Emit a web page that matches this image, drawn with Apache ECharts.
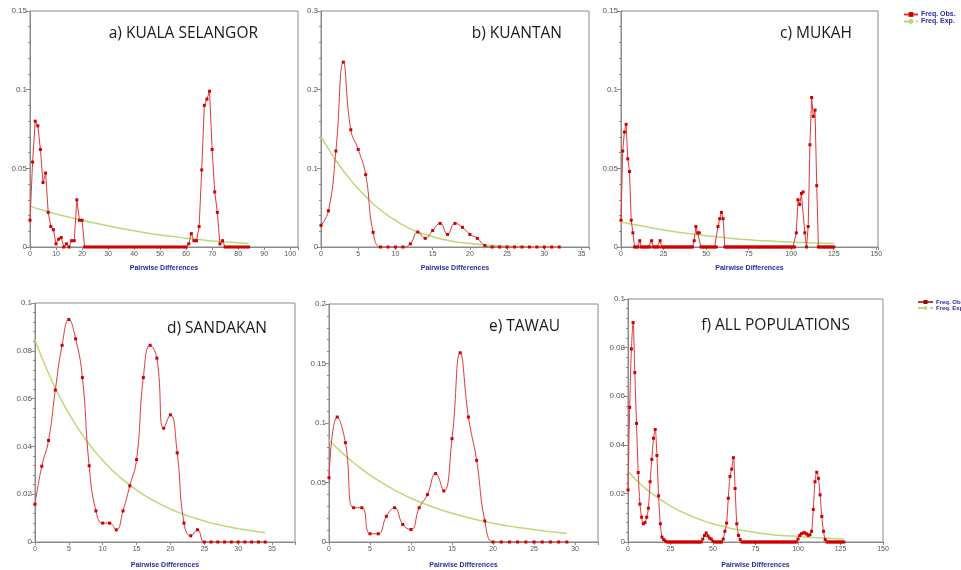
<!DOCTYPE html>
<html>
<head>
<meta charset="utf-8">
<script src="https://cdn.jsdelivr.net/npm/echarts@6/dist/echarts.min.js"></script>
<style>
  html, body { margin: 0; padding: 0; background: #fff; }
  #chart { width: 961px; height: 570px; }
</style>
</head>
<body>
<div id="chart"></div>
<script>
// panel titles
const titles = ['a) KUALA SELANGOR', 'b) KUANTAN', 'c) MUKAH', 'd) SANDAKAN', 'e) TAWAU', 'f) ALL POPULATIONS'];

// observed frequencies, x = 0, 1, 2 ...
const obsA = [0.017, 0.054, 0.080, 0.077, 0.062, 0.041, 0.047, 0.022, 0.013, 0.011,
  0.002, 0.005, 0.006, 0, 0.002, 0, 0.004, 0.004, 0.030, 0.017,
  0.017, 0, 0, 0, 0, 0, 0, 0, 0, 0,
  0, 0, 0, 0, 0, 0, 0, 0, 0, 0,
  0, 0, 0, 0, 0, 0, 0, 0, 0, 0,
  0, 0, 0, 0, 0, 0, 0, 0, 0, 0,
  0, 0.002, 0.0085, 0.004, 0.004, 0.013, 0.049, 0.090, 0.094, 0.099,
  0.062, 0.035, 0.022, 0.002, 0.004, 0, 0, 0, 0, 0,
  0, 0, 0, 0, 0];
const obsB = [0.0275, 0.046, 0.122, 0.235, 0.149, 0.124, 0.092, 0.0186, 0, 0,
  0, 0, 0.004, 0.019, 0.011, 0.021, 0.030, 0.016, 0.030, 0.025,
  0.016, 0.011, 0.002, 0, 0, 0, 0, 0, 0, 0,
  0, 0, 0];
const obsC = [0.017, 0.061, 0.073, 0.078, 0.056, 0.048, 0.017, 0.009, 0, 0,
  0, 0.004, 0, 0, 0, 0, 0, 0, 0.004, 0,
  0, 0, 0, 0.004, 0, 0, 0, 0, 0, 0,
  0, 0, 0, 0, 0, 0, 0, 0, 0, 0,
  0, 0, 0, 0.004, 0.013, 0.009, 0.009, 0, 0, 0,
  0, 0, 0, 0, 0, 0, 0, 0.013, 0.018, 0.022,
  0.018, 0, 0, 0, 0, 0, 0, 0, 0, 0,
  0, 0, 0, 0, 0, 0, 0, 0, 0, 0,
  0, 0, 0, 0, 0, 0, 0, 0, 0, 0,
  0, 0, 0, 0, 0, 0, 0, 0, 0, 0,
  0, 0, 0, 0.009, 0.030, 0.027, 0.034, 0.035, 0.009, 0,
  0.013, 0.065, 0.095, 0.083, 0.087, 0.039, 0, 0, 0, 0,
  0, 0, 0, 0, 0, 0];
const obsD = [0.0158, 0.0317, 0.0425, 0.0636, 0.0823, 0.0931, 0.085, 0.0688, 0.0319, 0.013,
  0.0079, 0.0079, 0.0051, 0.013, 0.0235, 0.0345, 0.0688, 0.0823, 0.0769, 0.0476,
  0.0532, 0.0373, 0.0079, 0.0026, 0.0051, 0, 0, 0, 0, 0,
  0, 0, 0, 0, 0];
const obsE = [0.054, 0.105, 0.0835, 0.0288, 0.0288, 0.0069, 0.0069, 0.0216, 0.0288, 0.0147,
  0.0105, 0.0288, 0.0398, 0.0575, 0.0429, 0.0869, 0.159, 0.105, 0.0686, 0.0177,
  0, 0, 0, 0, 0, 0, 0, 0, 0, 0];
const obsF = [0.0214, 0.0554, 0.0795, 0.0903, 0.0697, 0.0488, 0.0286, 0.0156, 0.0102, 0.0075,
  0.008, 0.0102, 0.0139, 0.0248, 0.034, 0.0427, 0.0463, 0.0356, 0.019, 0.0075,
  0.002, 0.001, 0.0004, 0, 0, 0, 0, 0, 0, 0,
  0, 0, 0, 0, 0, 0, 0, 0, 0, 0,
  0, 0, 0, 0, 0.0012, 0.0027, 0.0037, 0.0025, 0.0016, 0.0012,
  0.0003, 0, 0, 0, 0, 0, 0.0012, 0.0044, 0.0078, 0.018,
  0.027, 0.030, 0.0347, 0.022, 0.0075, 0.0027, 0.001, 0, 0, 0,
  0, 0, 0, 0, 0, 0, 0, 0, 0, 0,
  0, 0, 0, 0, 0, 0, 0, 0, 0, 0,
  0, 0, 0, 0, 0, 0, 0, 0, 0, 0,
  0.0012, 0.0027, 0.0034, 0.0037, 0.0038, 0.0033, 0.0027, 0.0030, 0.0044, 0.0134,
  0.0248, 0.0287, 0.0262, 0.0194, 0.0105, 0.0044, 0.001, 0, 0, 0,
  0, 0, 0, 0, 0, 0, 0, 0];

// expected frequencies
const expXA = [0, 5, 10, 15, 20, 25, 30, 35, 40, 45, 50, 55, 60, 65, 70, 75, 80, 84];
const expA = [0.026, 0.0233, 0.021, 0.019, 0.017, 0.0152, 0.0135, 0.0118, 0.0104, 0.0089,
  0.0076, 0.0066, 0.0055, 0.0047, 0.0038, 0.0032, 0.0027, 0.0023];
const expXB = [0, 1, 2, 3, 4, 5, 6, 7, 8, 9, 10, 11, 12, 13, 14, 15, 16, 17, 18, 19, 20,
  21, 22, 23, 24, 25, 26, 27, 28, 29, 30, 31, 32];
const expB = [0.140, 0.125, 0.110, 0.097, 0.085, 0.074, 0.064, 0.055, 0.047, 0.040,
  0.034, 0.028, 0.023, 0.019, 0.016, 0.013, 0.0105, 0.0085, 0.0068, 0.0054,
  0.0043, 0.0034, 0.0027, 0.0021, 0.0016, 0.0012, 0.0009, 0.0007, 0.0005, 0.0004,
  0.0003, 0.0002, 0.0002];
const expXC = [0, 5, 10, 15, 20, 25, 30, 35, 40, 45, 50, 55, 60, 65, 70, 75, 80, 85, 90,
  95, 100, 105, 110, 115, 120, 125];
const expC = [0.0157, 0.0148, 0.0138, 0.0128, 0.0118, 0.0108, 0.0100, 0.0092, 0.0085, 0.0078,
  0.0072, 0.0066, 0.0060, 0.0055, 0.0050, 0.0046, 0.0042, 0.0039, 0.0036, 0.0033,
  0.0031, 0.0029, 0.0027, 0.0025, 0.0024, 0.0023];
const expXD = [0, 1, 2, 3, 4, 5, 6, 7, 8, 9, 10, 11, 12, 13, 14, 15, 16, 17, 18, 19, 20,
  21, 22, 23, 24, 25, 26, 27, 28, 29, 30, 31, 32, 33, 34];
const expD = [0.0845, 0.0772, 0.0705, 0.0644, 0.0588, 0.0537, 0.0491, 0.0448, 0.0409, 0.0374,
  0.0342, 0.0312, 0.0285, 0.0260, 0.0238, 0.0217, 0.0198, 0.0181, 0.0166, 0.0151,
  0.0138, 0.0126, 0.0115, 0.0105, 0.0096, 0.0088, 0.0080, 0.0073, 0.0067, 0.0061,
  0.0056, 0.0051, 0.0047, 0.0043, 0.0039];
const expXE = [0, 1, 2, 3, 4, 5, 6, 7, 8, 9, 10, 11, 12, 13, 14, 15, 16, 17, 18, 19, 20,
  21, 22, 23, 24, 25, 26, 27, 28, 29];
const expE = [0.0858, 0.0788, 0.0724, 0.0666, 0.0612, 0.0562, 0.0517, 0.0475, 0.0436, 0.0401,
  0.0368, 0.0338, 0.0311, 0.0286, 0.0262, 0.0241, 0.0222, 0.0204, 0.0187, 0.0172,
  0.0158, 0.0145, 0.0133, 0.0122, 0.0113, 0.0103, 0.0095, 0.0087, 0.0080, 0.0074];
const expXF = [0, 5, 10, 15, 20, 25, 30, 35, 40, 45, 50, 55, 60, 65, 70, 75, 80, 85, 90,
  95, 100, 105, 110, 115, 120, 125, 127];
const expF = [0.0291, 0.0253, 0.0222, 0.0195, 0.0170, 0.0148, 0.0129, 0.0113, 0.0099, 0.0086,
  0.0075, 0.0066, 0.0057, 0.0050, 0.0044, 0.0039, 0.0034, 0.0030, 0.0027, 0.0025,
  0.0023, 0.0020, 0.0018, 0.0016, 0.0014, 0.0012, 0.0012];

// axis settings
const xMax = [103, 36, 151, 38.4, 32.8, 150];
const xStep = [10, 5, 25, 5, 5, 25];
const yMax = [0.15, 0.3, 0.15, 0.1, 0.2, 0.1];
const yStep = [0.05, 0.1, 0.05, 0.02, 0.05, 0.02];

const obs = [obsA, obsB, obsC, obsD, obsE, obsF];
const expX = [expXA, expXB, expXC, expXD, expXE, expXF];
const expY = [expA, expB, expC, expD, expE, expF];
const smoothing = [false, 0.5, false, 0.5, 0.5, 0.3];

const grids = [
  { left: 30, top: 11, width: 268, height: 236 },
  { left: 321, top: 11, width: 268, height: 236 },
  { left: 621, top: 11, width: 257, height: 236 },
  { left: 35, top: 303, width: 260, height: 241 },
  { left: 329, top: 304, width: 269, height: 241 },
  { left: 628, top: 299, width: 255, height: 245 }
];
const titlePos = [
  { right: 698, top: 21 }, { right: 394, top: 21 }, { right: 104, top: 21 },
  { right: 689, top: 316 }, { right: 396, top: 314 }, { right: 106, top: 313 }
];

const chart = echarts.init(document.getElementById('chart'));

const xAxes = [], yAxes = [], series = [];
grids.forEach((g, i) => {
  xAxes.push({
    type: 'value',
    gridIndex: i,
    min: 0,
    max: xMax[i],
    interval: xStep[i],
    name: 'Pairwise Differences',
    nameLocation: 'middle',
    nameGap: i < 3 ? 18 : 20,
    nameTextStyle: { color: '#2b2ba6', fontSize: 7, fontWeight: 'bold', fontFamily: 'Liberation Sans' },
    axisLine: { lineStyle: { color: '#8a8a8a' } },
    axisTick: { length: 3, lineStyle: { color: '#8a8a8a' } },
    axisLabel: {
      color: '#555', fontSize: 7, margin: 4, fontFamily: 'Liberation Sans',
      formatter: v => (v % xStep[i] === 0 ? String(v) : '')
    },
    splitLine: { show: false }
  });
  yAxes.push({
    type: 'value',
    gridIndex: i,
    min: 0,
    max: yMax[i],
    interval: yStep[i],
    axisLine: { show: true, lineStyle: { color: '#8a8a8a' } },
    axisTick: { show: true, length: 4, lineStyle: { color: '#8a8a8a' } },
    minorTick: { show: true, splitNumber: 5, length: 2, lineStyle: { color: '#8a8a8a' } },
    axisLabel: { color: '#555', fontSize: 8, margin: 3, fontFamily: 'Liberation Sans' },
    splitLine: { show: false }
  });
  series.push({
    name: 'Freq. Exp.',
    type: 'line',
    xAxisIndex: i,
    yAxisIndex: i,
    data: expX[i].map((x, k) => [x, expY[i][k]]),
    smooth: 0.4,
    symbol: 'none',
    lineStyle: { color: '#bcd97a', width: 1.5 },
    itemStyle: { color: '#bcd97a' },
    z: 2
  });
  series.push({
    name: 'Freq. Obs.',
    type: 'line',
    xAxisIndex: i,
    yAxisIndex: i,
    data: obs[i].map((y, x) => [x, y]),
    smooth: smoothing[i],
    symbol: 'rect',
    symbolSize: 3,
    lineStyle: { color: '#e0393a', width: 1 },
    itemStyle: { color: '#d10000' },
    z: 3
  });
});

const legendBase = {
  orient: 'vertical',
  itemGap: 0,
  itemWidth: 14,
  itemHeight: 6,
  textStyle: { color: '#2b2ba6', fontSize: 7, fontWeight: 'bold', fontFamily: 'Liberation Sans', padding: [0, 0, 0, -2] }
};

chart.setOption({
  animation: false,
  backgroundColor: '#fff',
  title: titles.map((t, i) => Object.assign({
    text: t,
    textStyle: { fontFamily: 'Open Sans', fontSize: 15.5, fontWeight: 'normal', color: '#1a1a1a' }
  }, titlePos[i])),
  legend: [
    Object.assign({}, legendBase, {
      left: 898, top: 6,
      data: [
        { name: 'Freq. Obs.', itemStyle: { color: '#d10000' }, lineStyle: { color: '#e0393a' } },
        { name: 'Freq. Exp.', lineStyle: { color: '#bcd97a', type: 'dashed' } }
      ]
    }),
    Object.assign({}, legendBase, {
      left: 912, top: 294,
      itemWidth: 15,
      itemHeight: 5,
      textStyle: { color: '#2b2ba6', fontSize: 6, fontWeight: 'bold', fontFamily: 'Liberation Sans', padding: [0, 0, 0, -2] },
      data: [
        { name: 'Freq. Obs.', itemStyle: { color: '#990000' }, lineStyle: { color: '#990000', width: 1.5 } },
        { name: 'Freq. Exp.', lineStyle: { color: '#bcd97a', type: 'dashed' } }
      ]
    })
  ],
  grid: grids.map(g => Object.assign({ show: true, borderColor: '#8a8a8a', borderWidth: 1, backgroundColor: '#fff' }, g)),
  xAxis: xAxes,
  yAxis: yAxes,
  series: series
});
</script>
</body>
</html>
